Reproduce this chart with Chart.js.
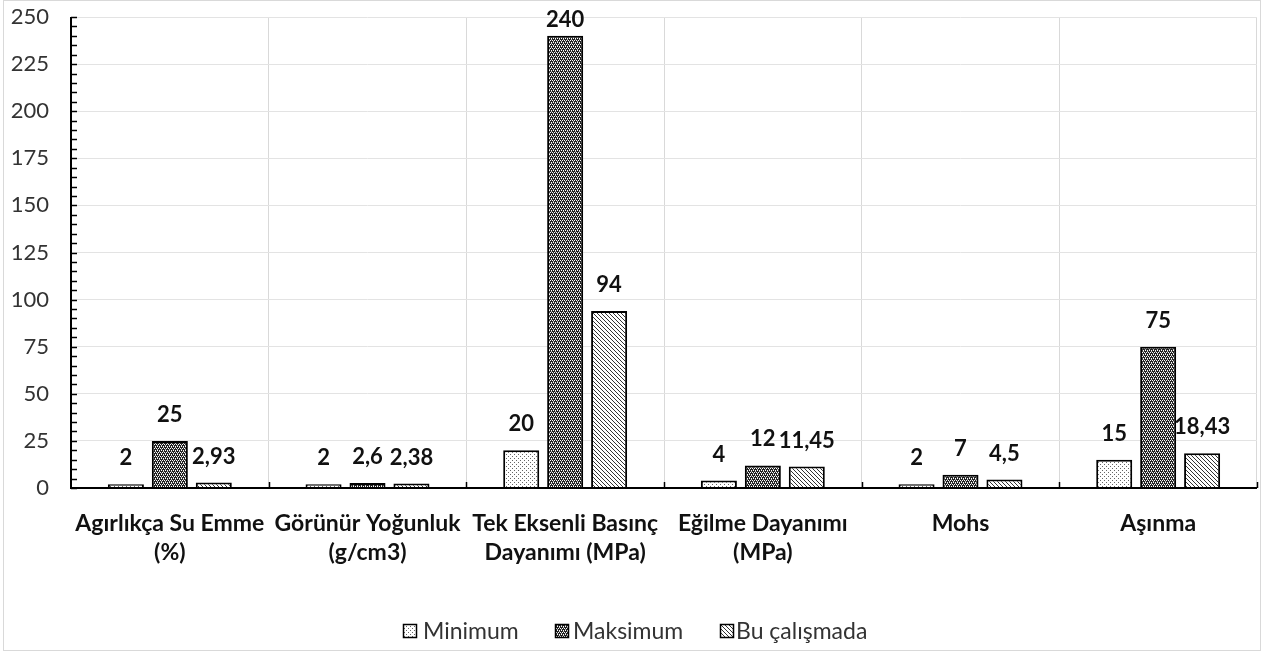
<!DOCTYPE html>
<html><head><meta charset="utf-8">
<script src="https://cdn.jsdelivr.net/npm/chart.js@4.4.1/dist/chart.umd.min.js"></script>
<style>html,body{margin:0;padding:0;background:#fff}#wrap{width:1264px;height:652px;position:relative}</style>
</head><body><div id="wrap"><canvas id="c" width="1264" height="652"></canvas></div>
<script>
const categories = [["Agırlıkça Su Emme","(%)"],["Görünür Yoğunluk","(g/cm3)"],["Tek Eksenli Basınç","Dayanımı (MPa)"],["Eğilme Dayanımı","(MPa)"],"Mohs","Aşınma"];
const seriesNames = ["Minimum","Maksimum","Bu çalışmada"];
const minimumValues = [2, 2, 20, 4, 2, 15];
const maksimumValues = [25, 2.6, 240, 12, 7, 75];
const buCalismadaValues = [2.93, 2.38, 94, 11.45, 4.5, 18.43];
const yTicks = [0,25,50,75,100,125,150,175,200,225,250];

function makePattern(kind){
  const t=document.createElement('canvas');
  const s=4; t.width=s; t.height=s;
  const g=t.getContext('2d');
  if(kind==='dots'){
    g.fillStyle='#fff'; g.fillRect(0,0,s,s);
    g.fillStyle='#666'; g.fillRect(0,0,1,1); g.fillRect(2,2,1,1);
  } else if(kind==='check'){
    g.fillStyle='#222'; g.fillRect(0,0,s,s);
    g.fillStyle='#fff'; g.fillRect(0,0,1,1); g.fillRect(2,0,1,1); g.fillRect(1,2,1,1); g.fillRect(3,2,1,1);
    g.fillStyle='#bbb'; g.fillRect(1,1,1,1); g.fillRect(3,3,1,1);
  } else {
    g.fillStyle='#fff'; g.fillRect(0,0,s,s);
    g.fillStyle='#333';
    for(let i=0;i<s;i++) g.fillRect(i,i,1,1);
  }
  return document.getElementById('c').getContext('2d').createPattern(t,'repeat');
}
const patterns=[makePattern('dots'),makePattern('check'),makePattern('diag')];
const seriesValues=[minimumValues,maksimumValues,buCalismadaValues];
const FONT='Lato, "Open Sans", sans-serif';

const extras={
  id:'extras',
  afterDatasetsDraw(chart){
    const ctx=chart.ctx, a=chart.chartArea, y=chart.scales.y;
    ctx.save();
    ctx.strokeStyle='#000'; ctx.lineWidth=2;
    ctx.beginPath(); ctx.moveTo(a.left,a.top); ctx.lineTo(a.left,a.bottom+1); ctx.stroke();
    ctx.beginPath(); ctx.moveTo(a.left-1,a.bottom); ctx.lineTo(a.right,a.bottom); ctx.stroke();
    ctx.lineWidth=1.5;
    for(let v=0; v<=250; v+=5){
      const py=Math.round(y.getPixelForValue(v))+0.5;
      ctx.beginPath(); ctx.moveTo(a.left,py); ctx.lineTo(a.left+6,py); ctx.stroke();
    }
    const n=categories.length, w=(a.right-a.left)/n;
    for(let i=1;i<=n;i++){
      const px=Math.round(a.left+i*w)+0.5;
      ctx.beginPath(); ctx.moveTo(px,a.bottom); ctx.lineTo(px,a.bottom-6); ctx.stroke();
    }
    ctx.fillStyle='#111'; ctx.font='bold 22px '+FONT; ctx.textAlign='center'; ctx.textBaseline='middle';
    chart.data.datasets.forEach((ds,di)=>{
      const meta=chart.getDatasetMeta(di);
      meta.data.forEach((bar,i)=>{
        const txt=String(ds.data[i]).replace('.',',');
        let cy=bar.y-26; if(cy<20) cy=20;
        ctx.fillText(txt,bar.x,cy);
      });
    });
    ctx.font='23px '+FONT; ctx.textAlign='left'; ctx.textBaseline='middle';
    const items=[[403,423],[555,573],[720,736]];
    const ly=631;
    seriesNames.forEach((nm,i)=>{
      const bx=items[i][0];
      ctx.fillStyle=patterns[i]; ctx.fillRect(bx,ly-7,14,14);
      ctx.strokeStyle='#000'; ctx.lineWidth=1.5; ctx.strokeRect(bx+0.5,ly-6.5,13,13);
      ctx.fillStyle='#333'; ctx.fillText(nm,items[i][1],ly+1);
    });
    ctx.strokeStyle='#d9d9d9'; ctx.lineWidth=1;
    ctx.strokeRect(3.5,0.5,1257,650);
    ctx.restore();
  }
};

new Chart(document.getElementById('c'),{
  type:'bar',
  data:{
    labels:categories,
    datasets:seriesNames.map((nm,i)=>({
      label:nm, data:seriesValues[i], backgroundColor:patterns[i],
      borderColor:'#000', borderWidth:2,
      categoryPercentage:0.667, barPercentage:0.82
    }))
  },
  options:{
    responsive:false, animation:false,
    layout:{padding:{top:17,right:7,left:0,bottom:0}},
    plugins:{legend:{display:false},tooltip:{enabled:false}},
    scales:{
      x:{
        grid:{color:'#d9d9d9',lineWidth:1,drawTicks:false,offset:true},
        border:{display:false},
        ticks:{color:'#111',font:{family:FONT,size:23,weight:'bold',lineHeight:1.26},padding:21,maxRotation:0,autoSkip:false},
        afterFit(s){s.height=164; s.paddingLeft=0; s.paddingRight=0;}
      },
      y:{
        min:0,max:250,
        afterBuildTicks(s){s.ticks=yTicks.map(v=>({value:v}));},
        grid:{color:'#e3e3e3',lineWidth:1,drawTicks:false},
        border:{display:false},
        ticks:{color:'#333',font:{family:FONT,size:22},padding:22},
        afterFit(s){s.width=71; s.paddingTop=0; s.paddingBottom=0;}
      }
    }
  },
  plugins:[extras]
});
</script></body></html>
